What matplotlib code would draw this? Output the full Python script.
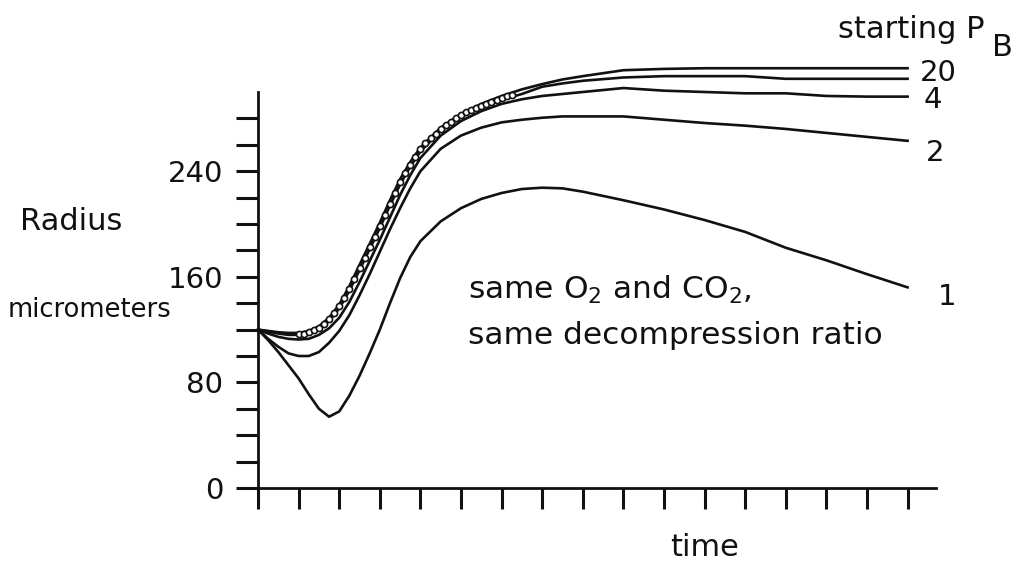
import matplotlib
matplotlib.use("Agg")
import matplotlib.pyplot as plt

plt.rcParams['font.family'] = ['DejaVu Sans']

# ---- data (time in tick units, radius in micrometers) ----
time = [0, 0.25, 0.5, 0.75, 1, 1.25, 1.5, 1.75, 2, 2.25, 2.5, 2.75, 3, 3.25, 3.5,
        3.75, 4, 4.5, 5, 5.5, 6, 6.5, 7, 7.5, 8, 9, 10, 11, 12, 13, 14, 15, 16]

radius_pb1 = [120, 112, 103, 93, 83, 71, 60, 54, 58, 70, 85, 102, 120, 140, 159,
              175, 187, 202, 212, 219, 223.5, 226.5, 227.5, 227, 224.5, 218, 211,
              203, 194, 182, 172.5, 162, 152]
radius_pb2 = [120, 113, 107, 102, 100, 100, 103, 110, 119, 131, 146, 162, 179, 196,
              212, 227, 240, 257, 267, 273, 277, 279, 280.5, 281.5, 281.5, 281.5,
              279, 276.5, 274.5, 272, 269, 266, 263]
radius_pb4 = [120, 117, 114.5, 113, 112.5, 113, 116, 121, 129, 141, 156, 172, 188,
              205, 222, 237, 250, 267, 278, 285.5, 291, 294.5, 297, 298.5, 300, 303,
              301, 300, 299, 299, 297, 296.5, 296.5]
radius_pb10 = [120, 118.5, 117, 116, 116, 117.5, 120.5, 126.5, 136, 149.5, 165, 181,
               197, 214, 230, 243.5, 255, 270.5, 281, 288.5, 294, 298.5, 304, 306.5,
               308.5, 311, 312, 312, 312, 310, 310, 310, 310]
radius_pb20 = [120, 119, 118, 117.5, 117.5, 119, 122.5, 129, 139, 153, 169, 185, 201,
               218, 234, 247, 258, 273, 283.5, 291, 297, 302, 306, 309.5, 312, 316.5,
               317.5, 318, 318, 318, 318, 318, 318]

time_circ = [1.0, 1.125, 1.25, 1.375, 1.5, 1.625, 1.75, 1.875, 2.0,
             2.125, 2.25, 2.375, 2.5, 2.625, 2.75, 2.875, 3.0, 3.125, 3.25, 3.375,
             3.5, 3.625, 3.75, 3.875, 4.0, 4.125, 4.25, 4.375, 4.5, 4.625, 4.75,
             4.875, 5.0, 5.125, 5.25, 5.375, 5.5, 5.625, 5.75, 5.875, 6.0, 6.125, 6.25]
radius_circ = [116.5, 117, 118, 119.5, 121.5, 124.5, 128, 132.5, 138,
               144, 151, 158.5, 166.5, 174.5, 182.5, 190.5, 198.5, 207, 215.5, 223.5,
               231.5, 238.5, 245, 251, 256.5, 261, 265, 268.5, 272, 275, 277.5, 280,
               282.5, 284.5, 286.5, 288, 289.5, 291, 292.5, 294, 295.5, 297, 298]

curve_labels = ["1", "2", "4", "20"]
y_major = [0, 80, 160, 240]
y_minor = [20, 40, 60, 100, 120, 140, 180, 200, 220, 260, 280]
x_ticks = list(range(0, 17))

W, H = 1030, 563
fig = plt.figure(figsize=(W / 100, H / 100), dpi=100)

def fx(px):
    return px / W

def fy(py):
    return 1 - py / H

ax = fig.add_axes([fx(241.8), fy(488), fx(936) - fx(241.8), fy(92) - fy(488)])
ax.set_xlim(-0.4, 16.7)
ax.set_ylim(0, 300)

ink = "#111111"
lw = 1.9
for r in [radius_pb1, radius_pb2, radius_pb4, radius_pb10, radius_pb20]:
    ax.plot(time, r, color=ink, lw=lw, clip_on=False, zorder=3)
ax.plot(time_circ, radius_circ, ls='none', marker='o', ms=4.4, mfc='white',
        mec=ink, mew=1.2, clip_on=False, zorder=4)

for s in ['top', 'right']:
    ax.spines[s].set_visible(False)
ax.spines['left'].set_position(('data', 0))
for s in ['left', 'bottom']:
    ax.spines[s].set_linewidth(2)
    ax.spines[s].set_color(ink)

ax.set_yticks(y_major)
ax.set_yticklabels([str(v) for v in y_major], fontsize=21, color=ink)
ax.set_yticks(y_minor, minor=True)
ax.tick_params(axis='y', which='both', direction='out', length=16, width=2.2,
               color=ink, pad=9)
ax.set_xticks(x_ticks)
ax.set_xticklabels([])
ax.tick_params(axis='x', which='both', direction='out', length=15, width=2.2,
               color=ink)
ax.xaxis.set_minor_locator(matplotlib.ticker.NullLocator())

# curve labels
ax.text(16.3, 314.5, curve_labels[3], fontsize=21, va='center', ha='left', color=ink)
ax.text(16.4, 294, curve_labels[2], fontsize=21, va='center', ha='left', color=ink)
ax.text(16.45, 254, curve_labels[1], fontsize=21, va='center', ha='left', color=ink)
ax.text(16.75, 145, curve_labels[0], fontsize=21, va='center', ha='left', color=ink)

fig.text(fx(838), fy(30), "starting P", fontsize=22, va='center', ha='left', color=ink)
fig.text(fx(992), fy(48), "B", fontsize=22, va='center', ha='left', color=ink)

fig.text(fx(20), fy(222), "Radius", fontsize=22, va='center', ha='left', color=ink)
fig.text(fx(8), fy(310), "micrometers", fontsize=18.5, va='center', ha='left', color=ink)
fig.text(fx(705), fy(548), "time", fontsize=22, va='center', ha='center', color=ink)

fig.text(fx(468), fy(290), "same O$_2$ and CO$_2$,", fontsize=22.5, va='center',
         ha='left', color=ink)
fig.text(fx(468), fy(336), "same decompression ratio", fontsize=22.5, va='center',
         ha='left', color=ink)

fig.savefig("out.png", dpi=100)
